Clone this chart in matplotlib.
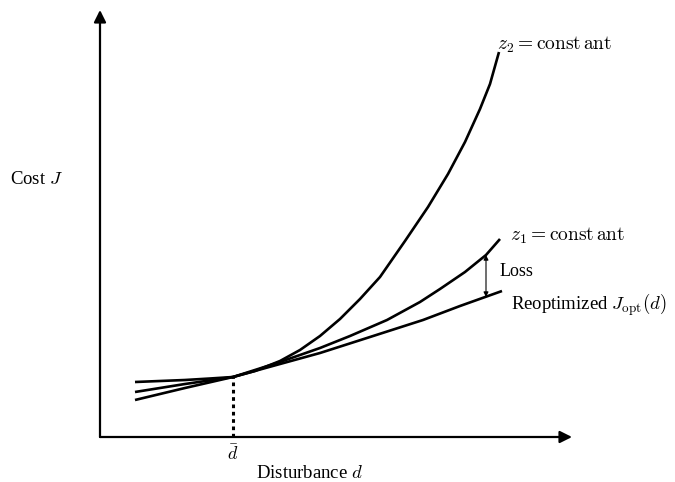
import matplotlib
matplotlib.use("Agg")
import matplotlib.pyplot as plt

plt.rcParams['font.family'] = ['Liberation Serif', 'DejaVu Serif']
plt.rcParams['mathtext.fontset'] = 'cm'

# curves (d, J)
d_z2 = [35, 60, 85, 110, 133, 155, 180, 200, 220, 240, 260, 280, 305, 328, 348, 365, 380, 390, 399]
J_z2 = [55, 56, 57, 58.5, 60, 66, 76, 87, 101, 118, 138, 160, 196, 230, 263, 295, 328, 353, 385]

d_z1 = [35, 85, 133, 180, 220, 250, 287, 320, 340, 365, 386, 400]
J_z1 = [45, 53, 60, 75, 89, 101, 117, 135, 148, 165, 182, 198]

d_opt = [35, 85, 133, 180, 220, 270, 323, 360, 402]
J_opt = [37, 49, 60, 73, 84, 100, 117, 131, 146]

d_bar = 133
J_bar = 60
loss_d = 386
loss_top = 182
loss_bot = 140

fig = plt.figure(figsize=(6.75, 4.82), dpi=100)
ax = fig.add_axes([0, 0, 1, 1])
ax.set_xlim(-100, 575)
ax.set_ylim(-45, 437)
ax.axis('off')

# axes with arrows
ax.annotate('', xy=(472, 0), xytext=(0, 0),
            arrowprops=dict(arrowstyle='-|>', lw=1.6, color='black',
                            mutation_scale=18, shrinkA=0, shrinkB=0))
ax.annotate('', xy=(0, 427), xytext=(0, 0),
            arrowprops=dict(arrowstyle='-|>', lw=1.6, color='black',
                            mutation_scale=18, shrinkA=0, shrinkB=0))

ax.plot(d_z2, J_z2, color='black', lw=1.9, solid_capstyle='butt', solid_joinstyle='round')
ax.plot(d_z1, J_z1, color='black', lw=1.9, solid_capstyle='butt', solid_joinstyle='round')
ax.plot(d_opt, J_opt, color='black', lw=1.9, solid_capstyle='butt', solid_joinstyle='round')

ax.plot([d_bar, d_bar], [0, J_bar], color='black', lw=2.2, ls=(0, (1.2, 1.2)))

ax.annotate('', xy=(loss_d, loss_top), xytext=(loss_d, loss_bot),
            arrowprops=dict(arrowstyle='<|-|>', lw=0.8, color='black',
                            mutation_scale=7, shrinkA=0, shrinkB=0))

fs = 13
ax.text(397, 392, r'$z_2 = \mathrm{const\,ant}$', fontsize=fs + 1, va='center')
ax.text(410, 201, r'$z_1 = \mathrm{const\,ant}$', fontsize=fs + 1, va='center')
ax.text(400, 166, 'Loss', fontsize=fs, va='center')
ax.text(411, 132, r'Reoptimized $J_{\mathrm{opt}}(d)$', fontsize=fs + 0.5, va='center')
ax.text(-90, 258, r'Cost $J$', fontsize=fs + 0.5, va='center')
ax.text(d_bar, -17, r'$\bar{d}$', fontsize=fs, ha='center', va='center')
ax.text(210, -37, r'Disturbance $d$', fontsize=fs + 0.5, ha='center', va='center')

fig.savefig('out.png', dpi=100)
